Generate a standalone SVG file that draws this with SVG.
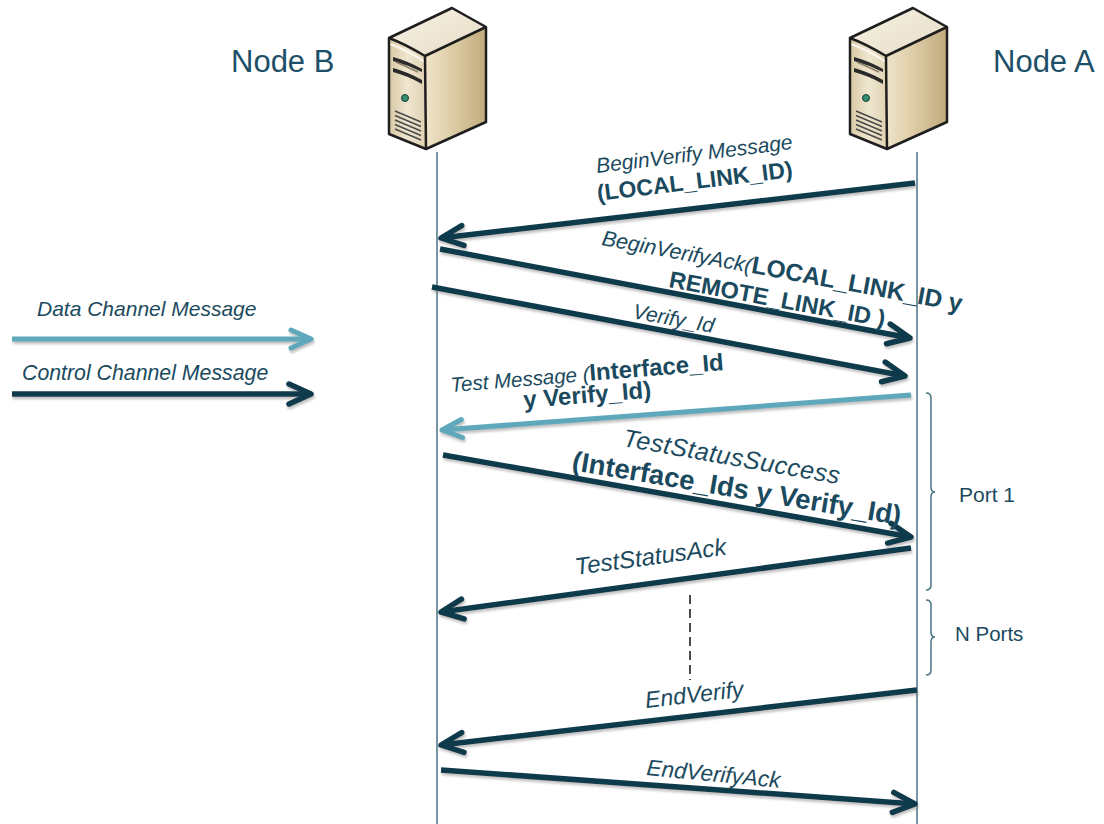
<svg xmlns="http://www.w3.org/2000/svg" width="1104" height="824" viewBox="0 0 1104 824">
<style>
.life{stroke:#4a7384;stroke-width:1.5;fill:none}
.ctrl{stroke:#0f3a4c;stroke-width:5.5;fill:none;filter:url(#sh)}
.data{stroke:#5fa8bb;stroke-width:5;fill:none;filter:url(#sh)}
.lbl{font-family:"Liberation Sans",Arial,sans-serif;fill:#1b4a5e}
.it{font-style:italic}
.b{font-weight:bold;font-style:normal}
.node{font-family:"Liberation Sans",Arial,sans-serif;font-size:31px;fill:#1d5068}
.brk{stroke:#4a7384;stroke-width:1.5;fill:none}
.edge{stroke:#1e1e1e;stroke-width:2.5;stroke-linejoin:round}
</style>
<defs>
<filter id="sh" filterUnits="userSpaceOnUse" x="0" y="0" width="1104" height="824">
<feDropShadow dx="1" dy="2.5" stdDeviation="1.2" flood-color="#777" flood-opacity="0.45"/>
</filter>
<marker id="hc" markerUnits="userSpaceOnUse" viewBox="-26 -14 30 28" refX="0" refY="0" markerWidth="30" markerHeight="28" orient="auto">
<path d="M-22,-10 L0,0 L-22,10" fill="none" stroke="#0f3a4c" stroke-width="5.5" stroke-linecap="round" stroke-linejoin="round"/>
</marker>
<marker id="hd" markerUnits="userSpaceOnUse" viewBox="-26 -14 30 28" refX="0" refY="0" markerWidth="30" markerHeight="28" orient="auto">
<path d="M-20,-9 L0,0 L-20,9" fill="none" stroke="#5fa8bb" stroke-width="5" stroke-linecap="round" stroke-linejoin="round"/>
</marker>
<linearGradient id="gRight" x1="0" y1="0" x2="1" y2="0">
<stop offset="0" stop-color="#efe4cb"/>
<stop offset="0.35" stop-color="#e2d2ad"/>
<stop offset="1" stop-color="#c2ab7d"/>
</linearGradient>
<linearGradient id="gFront" x1="0" y1="0" x2="1" y2="0">
<stop offset="0" stop-color="#d9c9a4"/>
<stop offset="0.5" stop-color="#efe6d0"/>
<stop offset="1" stop-color="#e0d2b2"/>
</linearGradient>
<linearGradient id="gTop" x1="0" y1="0" x2="1" y2="1">
<stop offset="0" stop-color="#f7f2e6"/>
<stop offset="1" stop-color="#e6dcc4"/>
</linearGradient>
<g id="server">
<path d="M389,38 L452,8 L486,27 L425,56 Q405,44 389,38 Z" fill="url(#gTop)"/>
<path d="M425,56 L486,27 L486,122 L426,149 Z" fill="url(#gRight)"/>
<path d="M389,38 Q405,44 425,56 L426,149 L389,134 Z" fill="url(#gFront)"/>
<path d="M390,44 Q407,50 425,62" stroke="#fbf7ee" stroke-width="2" fill="none"/>
<path d="M393,57 Q408,61 422,69 L422,72 Q408,65 393,61 Z" fill="#2a2a2a"/>
<path d="M393,68 Q408,72 422,80 L422,84 Q408,76 393,72 Z" fill="#2a2a2a"/>
<path d="M396,62 L418,72" stroke="#8c7f66" stroke-width="1.5"/>
<circle cx="405" cy="98" r="3.5" fill="#2f8f6e" stroke="#1e3c30" stroke-width="1"/>
<g stroke="#4b4b4b" stroke-width="1.6">
<line x1="395" y1="111" x2="421" y2="122"/>
<line x1="395" y1="115.5" x2="421" y2="126.5"/>
<line x1="395" y1="120" x2="421" y2="131"/>
<line x1="395" y1="124.5" x2="421" y2="135.5"/>
<line x1="395" y1="129" x2="421" y2="140"/>
</g>
<path class="edge" d="M389,38 L452,8 L486,27 L486,122 L426,149 L389,134 Z" fill="none"/>
<path class="edge" d="M389,38 Q405,44 425,56 L486,27 M425,56 L426,149" fill="none" stroke-width="2"/>
</g>
</defs>
<rect width="1104" height="824" fill="#ffffff"/>

<g id="nodeB">
<use href="#server"/>
<text class="node" x="231" y="72">Node B</text>
<line class="life" x1="437" y1="152" x2="437" y2="824"/>
</g>
<g id="nodeA">
<use href="#server" transform="translate(461,0)"/>
<text class="node" x="993" y="72">Node A</text>
<line class="life" x1="917" y1="152" x2="917" y2="824"/>
</g>

<g id="legend">
<text class="lbl it" font-size="21" x="37" y="316">Data Channel Message</text>
<line class="data" x1="12" y1="339" x2="311" y2="339" marker-end="url(#hd)"/>
<text class="lbl it" font-size="21.3" x="22" y="380">Control Channel Message</text>
<line class="ctrl" x1="12" y1="394" x2="311" y2="394" stroke-width="6" marker-end="url(#hc)"/>
</g>

<g id="connectors">
<line class="ctrl" x1="915" y1="183" x2="441" y2="238" marker-end="url(#hc)"/>
<line class="ctrl" x1="440" y1="249" x2="910" y2="338" marker-end="url(#hc)"/>
<line class="ctrl" x1="432" y1="287" x2="905" y2="376" marker-end="url(#hc)"/>
<line class="data" x1="911" y1="395" x2="442" y2="430" marker-end="url(#hd)"/>
<line class="ctrl" x1="443" y1="455" x2="911" y2="537" marker-end="url(#hc)"/>
<line class="ctrl" x1="911" y1="548" x2="441" y2="612" marker-end="url(#hc)"/>
<line class="ctrl" x1="917" y1="690" x2="441" y2="745" marker-end="url(#hc)"/>
<line class="ctrl" x1="441" y1="770" x2="915" y2="804" marker-end="url(#hc)"/>
<line x1="690" y1="595" x2="690" y2="680" stroke="#111" stroke-width="1.5" stroke-dasharray="9,5"/>
</g>

<g id="labels">
<text class="lbl it" font-size="21" transform="translate(597,173) rotate(-7)">BeginVerify Message</text>
<text class="lbl b" font-size="23" transform="translate(598,201) rotate(-7)">(LOCAL_LINK_ID)</text>
<text class="lbl it" font-size="21.5" transform="translate(601,245) rotate(10.5)">BeginVerifyAck(<tspan class="b" font-size="24.5">LOCAL_LINK_ID y</tspan></text>
<text class="lbl b" font-size="23.5" transform="translate(668,287) rotate(10.5)">REMOTE_LINK_ID )</text>
<text class="lbl it" font-size="21" transform="translate(632,318) rotate(10.5)">Verify_Id</text>
<text class="lbl it" font-size="20.5" transform="translate(451,392) rotate(-4.6)">Test Message (<tspan class="b" font-size="24">Interface_Id</tspan></text>
<text class="lbl b" font-size="24" transform="translate(524,408) rotate(-4.6)">y Verify_Id)</text>
<text class="lbl it" font-size="25" letter-spacing="0.5" transform="translate(622,446) rotate(10)">TestStatusSuccess</text>
<text class="lbl b" font-size="27.5" transform="translate(571,470) rotate(9.5)">(Interface_Ids y Verify_Id)</text>
<text class="lbl it" font-size="24" transform="translate(576,575) rotate(-7.7)">TestStatusAck</text>
<text class="lbl it" font-size="23" transform="translate(646,708) rotate(-6.6)">EndVerify</text>
<text class="lbl it" font-size="22.5" transform="translate(646,775) rotate(5.5)">EndVerifyAck</text>
</g>

<g id="port1">
<path class="brk" d="M926,393 Q931,393 931,398 L931,487 Q931,492 935,492 Q931,492 931,497 L931,585 Q931,590 926,590"/>
<text class="lbl" font-size="21" x="959" y="502">Port 1</text>
</g>
<g id="nports">
<path class="brk" d="M926,600 Q931,600 931,605 L931,632 Q931,637 935,637 Q931,637 931,642 L931,670 Q931,675 926,675"/>
<text class="lbl" font-size="20.5" x="955" y="641">N Ports</text>
</g>
</svg>
